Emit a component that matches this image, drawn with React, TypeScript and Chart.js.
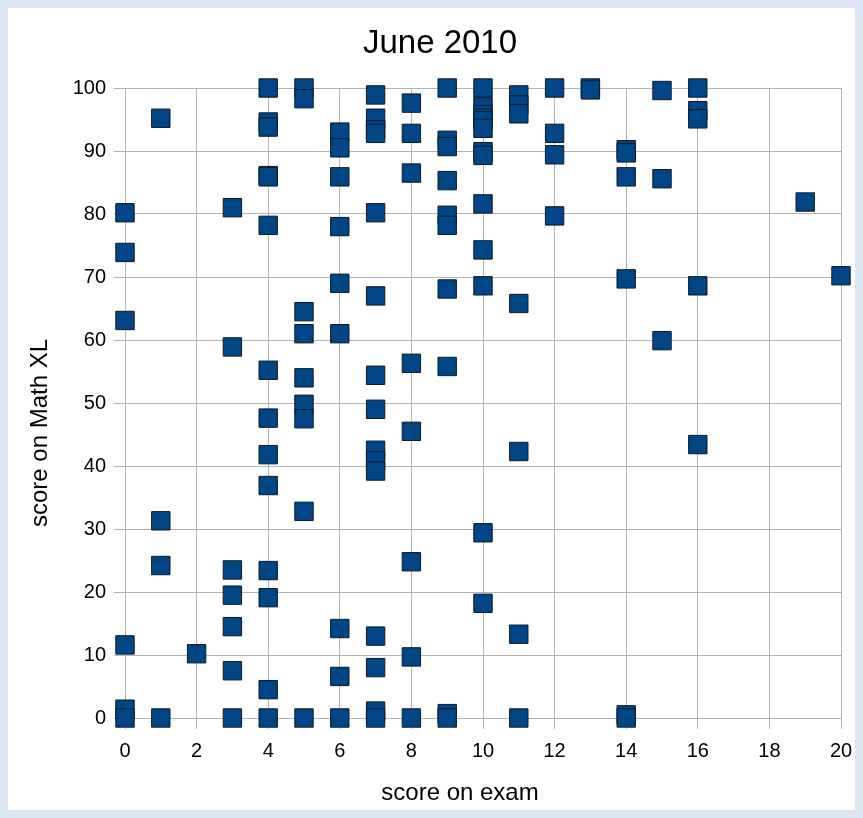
import React, { useEffect, useRef } from "react";
import { Chart, registerables } from "chart.js";

Chart.register(...registerables);

// ---- text ----
const chartTitle = "June 2010";
const xAxisTitle = "score on exam";
const yAxisTitle = "score on Math XL";

// ---- axes ----
const xMin = 0;
const xMax = 20;
const xStep = 2;
const yMin = 0;
const yMax = 100;
const yStep = 10;

// ---- data: exam score (x) and the Math XL scores (y) recorded at that exam score ----
const examScores = [0, 1, 2, 3, 4, 5, 6, 7, 8, 9, 10, 11, 12, 13, 14, 15, 16, 19, 20];
const mathXLScores = [
  [80.2, 73.9, 63.1, 11.6, 1.4, 0],
  [95.2, 31.3, 24.2, 0],
  [10.2],
  [81.0, 58.9, 23.5, 19.5, 14.5, 7.5, 0],
  [100, 94.6, 93.8, 86.1, 85.9, 78.2, 55.2, 47.6, 41.8, 36.9, 23.4, 19.1, 4.5, 0],
  [100, 98.3, 64.5, 61.0, 54.0, 49.8, 47.5, 32.8, 0],
  [93.0, 90.5, 85.9, 78.0, 69.0, 61.0, 14.2, 6.6, 0],
  [98.9, 95.2, 93.4, 92.8, 80.2, 67.0, 54.4, 49.0, 42.5, 40.8, 39.2, 13.0, 8.0, 1.1, 0],
  [97.6, 92.8, 86.5, 56.3, 45.5, 24.8, 9.7, 0],
  [100, 91.7, 90.7, 85.3, 79.8, 78.2, 68.1, 55.8, 0.7, 0],
  [100, 97.0, 95.8, 95.2, 94.8, 93.6, 89.9, 89.3, 81.6, 74.3, 68.6, 29.4, 18.2],
  [98.9, 97.3, 95.9, 65.8, 42.3, 13.3, 0],
  [100, 92.8, 89.4, 79.7],
  [100, 99.7],
  [90.2, 89.7, 85.9, 69.7, 0.5, 0],
  [99.6, 85.6, 59.9],
  [100, 96.4, 95.1, 68.6, 43.4],
  [81.9],
  [70.2],
];

const FONT = '"Liberation Sans", Arial, sans-serif';
const GRID = "#b3b3b3";

const titlesPlugin = {
  id: "titlesPlugin",
  afterDraw(chart: any) {
    const ctx = chart.ctx as CanvasRenderingContext2D;
    const area = chart.chartArea;
    ctx.save();
    ctx.fillStyle = "#000000";
    ctx.textBaseline = "alphabetic";
    // main title
    ctx.font = `33px ${FONT}`;
    ctx.textAlign = "center";
    ctx.fillText(chartTitle, area.left + 315, area.top - 35);
    // x axis title
    ctx.font = `24px ${FONT}`;
    ctx.fillText(xAxisTitle, (area.left + area.right) / 2 - 23, area.bottom + 82);
    // y axis title
    ctx.translate(area.left - 78, area.bottom - 191);
    ctx.rotate(-Math.PI / 2);
    ctx.textAlign = "left";
    ctx.fillText(yAxisTitle, 0, 0);
    ctx.restore();
  },
};

export default function App() {
  const ref = useRef<HTMLCanvasElement | null>(null);

  useEffect(() => {
    document.body.style.backgroundColor = "#dce6f2";
    const canvas = ref.current;
    if (!canvas) return;

    const points = examScores.flatMap((x, i) => mathXLScores[i].map((y) => ({ x, y })));

    const chart = new Chart(canvas, {
      type: "scatter",
      data: {
        datasets: [
          {
            label: "Math XL",
            data: points,
            pointStyle: "rect",
            pointRadius: 13,
            pointHoverRadius: 13,
            backgroundColor: "#004586",
            borderColor: "#0d1a26",
            borderWidth: 1,
            clip: false as any,
          },
        ],
      },
      plugins: [titlesPlugin],
      options: {
        responsive: false,
        animation: false,
        events: [],
        layout: { padding: { left: 0, right: 12, top: 80, bottom: 0 } },
        plugins: {
          legend: { display: false },
          title: { display: false },
          tooltip: { enabled: false },
        },
        scales: {
          x: {
            type: "linear",
            min: xMin,
            max: xMax,
            ticks: {
              stepSize: xStep,
              color: "#000000",
              font: { family: FONT, size: 20 },
              padding: 10,
              maxRotation: 0,
            },
            grid: { color: GRID, tickColor: GRID, tickLength: 11, lineWidth: 1 },
            border: { color: GRID, width: 1 },
            afterFit(scale: any) {
              scale.height = 92;
              scale.paddingLeft = 0;
              scale.paddingRight = 0;
            },
          },
          y: {
            type: "linear",
            min: yMin,
            max: yMax,
            ticks: {
              stepSize: yStep,
              color: "#000000",
              font: { family: FONT, size: 20 },
              padding: 8,
            },
            grid: { color: GRID, tickColor: GRID, tickLength: 11, lineWidth: 1 },
            border: { color: GRID, width: 1 },
            afterFit(scale: any) {
              scale.width = 117;
              scale.paddingTop = 0;
              scale.paddingBottom = 0;
            },
          },
        },
      },
    });

    return () => chart.destroy();
  }, []);

  return (
    <div style={{ width: 847, height: 802 }}>
      <canvas
        ref={ref}
        width={847}
        height={802}
        style={{ display: "block", width: 847, height: 802, background: "#ffffff" }}
      />
    </div>
  );
}
